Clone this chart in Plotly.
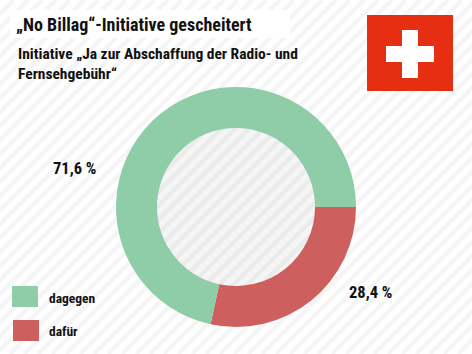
import plotly.graph_objects as go

categories = ["dafür", "dagegen"]
values = [28.4, 71.6]
colors = ["#CE5F5F", "#8FCCA8"]
value_labels = ["28,4 %", "71,6 %"]
title = "„No Billag“-Initiative gescheitert"
subtitle = "Initiative „Ja zur Abschaffung der Radio- und<br>Fernsehgebühr“"

W, H = 472, 354
FONT = "Roboto Condensed, DejaVu Sans Condensed, Roboto, sans-serif"
CX, CY, R_OUT, R_IN = 236, 207, 120, 79
STRIPE = "#F5F5F5"
PERIOD = 14

shapes = []
def rect(x0, y0, x1, y1, color):
    shapes.append(dict(type="rect", xref="paper", yref="paper", x0=x0 / W, x1=x1 / W,
                       y0=1 - y0 / H, y1=1 - y1 / H, fillcolor=color, line_width=0, layer="below"))

# background hatch
for c in range(0, W + H + PERIOD, PERIOD):
    shapes.append(dict(type="line", xref="paper", yref="paper", x0=c / W, y0=1.0,
                       x1=(c - H) / W, y1=0.0, line=dict(color=STRIPE, width=4.5), layer="below"))
# hole tint
shapes.append(dict(type="circle", xref="paper", yref="paper", x0=(CX - R_IN) / W, x1=(CX + R_IN) / W,
                   y0=1 - (CY + R_IN) / H, y1=1 - (CY - R_IN) / H,
                   fillcolor="rgba(0,0,0,0.04)", line_width=0, layer="below"))
# title plate
rect(10, 10, 290, 38, "#FFFFFF")
# flag
rect(367, 15, 453, 91, "#E62E12")
rect(402, 30, 418, 78, "#FFFFFF")
rect(386, 46, 434, 62, "#FFFFFF")
# legend swatches
rect(12, 286, 38, 307, colors[1])
rect(13, 320, 39, 341, colors[0])

def note(text, x, y, size, weight="normal", anchor="left", yanchor="middle"):
    return dict(text=text, x=x / W, y=1 - y / H, xref="paper", yref="paper", showarrow=False,
                xanchor=anchor, yanchor=yanchor, align="left", xshift=0,
                font=dict(family=FONT, size=size, color="#111111", weight=weight))

annotations = [
    note(title, 14, 24, 18, "bold"),
    note(subtitle, 16, 63.5, 15.5, "bold"),
    note(value_labels[1], 51, 168, 16.5, "bold"),
    note(value_labels[0], 347, 292, 16.5, "bold"),
    note(categories[1], 46.5, 297.5, 13.5, "bold"),
    note(categories[0], 46.5, 330.5, 13.5, "bold"),
]

fig = go.Figure(go.Pie(
    labels=categories, values=values, hole=R_IN / R_OUT, sort=False, direction="clockwise",
    rotation=90, marker=dict(colors=colors, line=dict(width=0)), textinfo="none",
    hoverinfo="label+percent", showlegend=False,
    domain=dict(x=[(CX - R_OUT) / W, (CX + R_OUT) / W], y=[1 - (CY + R_OUT) / H, 1 - (CY - R_OUT) / H]),
))
fig.update_layout(width=W, height=H, margin=dict(l=0, r=0, t=0, b=0), paper_bgcolor="#FFFFFF",
                  plot_bgcolor="#FFFFFF", shapes=shapes, annotations=annotations)
fig.write_html("out.html", config=dict(displayModeBar=False),
               post_script="document.body.style.margin='0';document.documentElement.style.overflow='hidden';")
